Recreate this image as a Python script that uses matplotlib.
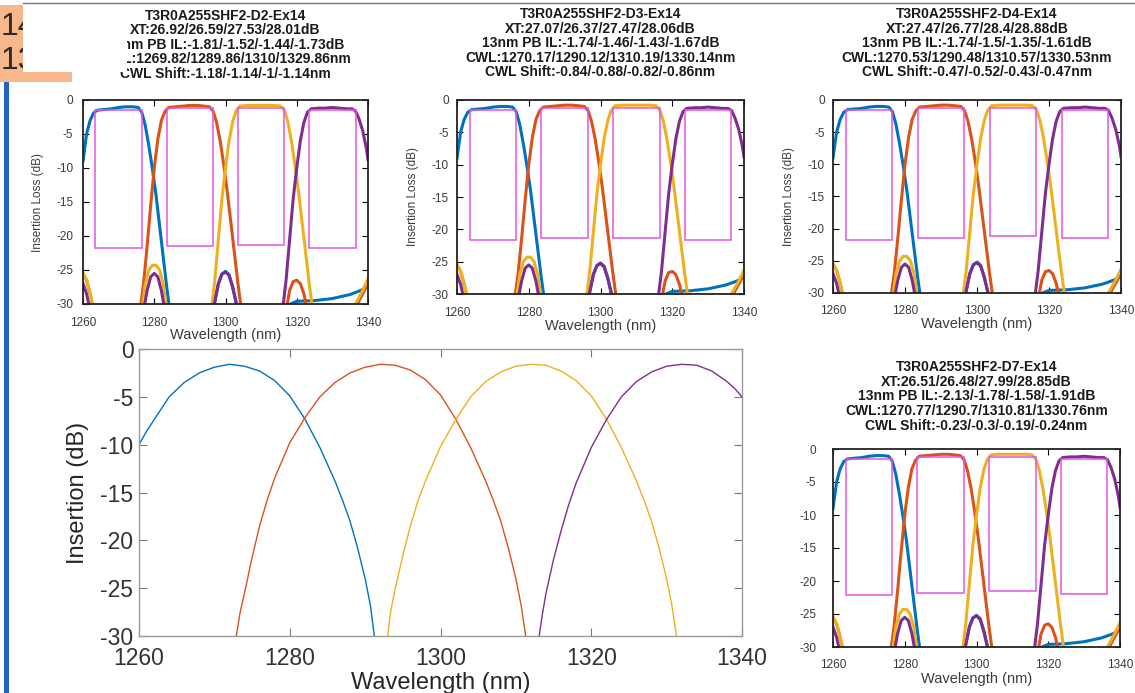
import matplotlib
matplotlib.use('Agg')
import matplotlib.pyplot as plt
from matplotlib.patches import Rectangle
from matplotlib.lines import Line2D

plt.rcParams['font.family'] = ['Liberation Sans', 'DejaVu Sans']
plt.rcParams['axes.unicode_minus'] = False

W, H = 1135, 693
colors = ['#0072BD', '#D95319', '#EDB120', '#7E2F8E']
mask_color = '#e653e6'

# ---- measured flat-top responses (small panels), wavelength nm / IL dB ----
pb_wl_1 = [1260, 1261, 1262, 1263, 1264, 1266, 1268, 1270, 1272, 1274, 1275.5, 1276.5, 1277.5,
           1278.5, 1279.5, 1280.5, 1281.5, 1282.5, 1283.5, 1284.5, 1290,
           1296.5, 1298, 1299, 1300, 1301, 1302, 1303.5, 1309,
           1316, 1320, 1325, 1330, 1335, 1338, 1340]
pb_il_1 = [-9.0, -5.0, -3.0, -1.9, -1.5, -1.4, -1.3, -1.1, -1.0, -1.0, -1.1, -1.8, -3.8,
           -6.8, -10.2, -14.0, -18.5, -23.0, -27.5, -31.5, -45,
           -31, -27.0, -25.6, -25.2, -25.7, -27.5, -31, -45,
           -30.5, -29.6, -29.5, -29.2, -28.6, -28.0, -27.4]

pb_wl_2 = [1260, 1261, 1262, 1263, 1268,
           1276, 1277, 1278, 1279, 1280, 1281, 1282, 1283, 1284, 1286, 1288, 1290, 1292, 1294,
           1295.5, 1296.5, 1297.5, 1298.5, 1299.5, 1300.5, 1301.5, 1302.5, 1303.5, 1304.5, 1310,
           1317, 1318, 1319, 1320, 1321, 1322, 1323, 1330,
           1336, 1338, 1340]
pb_il_2 = [-25.5, -26.5, -28.5, -31, -45,
           -31, -27.0, -21.5, -15.5, -10.0, -5.8, -3.0, -1.7, -1.1, -1.0, -0.9, -0.8, -0.8, -0.9,
           -1.0, -1.6, -3.3, -6.0, -9.5, -13.5, -18.0, -22.5, -27.0, -31, -45,
           -31, -28.0, -26.7, -26.5, -27.0, -28.5, -31, -45,
           -31, -29.0, -27.0]

pb_wl_3 = [1260, 1261, 1262, 1263, 1270,
           1276.5, 1277.5, 1278.5, 1279.5, 1280.5, 1281.5, 1282.5, 1283.5, 1290,
           1296, 1297, 1298, 1299, 1300, 1301, 1302, 1303, 1304, 1306, 1308, 1310, 1312, 1314,
           1315.5, 1316.5, 1317.5, 1318.5, 1319.5, 1320.5, 1321.5, 1322.5, 1323.5, 1324.5, 1330,
           1335.5, 1337, 1338.5, 1340]
pb_il_3 = [-25.5, -26.5, -28.5, -31, -45,
           -31, -27.0, -25.0, -24.3, -24.3, -25.0, -27.0, -31, -45,
           -31, -26.5, -20.5, -14.5, -10.0, -6.0, -3.2, -1.6, -0.9, -0.8, -0.8, -0.8, -0.8, -0.8,
           -0.9, -1.5, -3.2, -6.0, -9.5, -13.5, -18.0, -22.5, -27.0, -31, -45,
           -31, -29.5, -28.0, -26.3]

pb_wl_4 = [1260, 1261, 1262, 1270,
           1277, 1278, 1279, 1280, 1281, 1282, 1283, 1290,
           1296.5, 1298, 1299, 1300, 1301, 1302, 1303.5, 1310,
           1316, 1317, 1318, 1319, 1320, 1321, 1322, 1323, 1324, 1326, 1328, 1330, 1332, 1334,
           1335.5, 1336.5, 1337.5, 1338.5, 1339.5, 1340]
pb_il_4 = [-27.0, -28.5, -31, -45,
           -31, -28.0, -26.0, -25.5, -26.0, -28.0, -31, -45,
           -31, -27.0, -25.6, -25.3, -25.8, -27.5, -31, -45,
           -31, -26.5, -20.5, -14.5, -10.0, -6.0, -3.3, -1.8, -1.3, -1.2, -1.2, -1.1, -1.2, -1.3,
           -1.3, -1.6, -2.8, -4.5, -7.0, -8.8]

# passband masks (13 nm)
mask_lo = [1263.5, 1283.5, 1303.5, 1323.5]
mask_hi = [1276.5, 1296.5, 1316.5, 1336.5]
mask_top = [-1.5, -1.2, -1.2, -1.5]

# ---- devices ----
device_ids = ['D2', 'D3', 'D4', 'D7']
xt = ['26.92/26.59/27.53/28.01', '27.07/26.37/27.47/28.06',
      '27.47/26.77/28.4/28.88', '26.51/26.48/27.99/28.85']
pb_il = ['-1.81/-1.52/-1.44/-1.73', '-1.74/-1.46/-1.43/-1.67',
         '-1.74/-1.5/-1.35/-1.61', '-2.13/-1.78/-1.58/-1.91']
cwl = ['1269.82/1289.86/1310/1329.86', '1270.17/1290.12/1310.19/1330.14',
       '1270.53/1290.48/1310.57/1330.53', '1270.77/1290.7/1310.81/1330.76']
cwl_shift = ['-1.18/-1.14/-1/-1.14', '-0.84/-0.88/-0.82/-0.86',
             '-0.47/-0.52/-0.43/-0.47', '-0.23/-0.3/-0.19/-0.24']
mask_floor = [[-21.8, -21.5, -21.3, -21.8],
              [-21.7, -21.4, -21.4, -21.7],
              [-21.7, -21.4, -21.2, -21.5],
              [-22.1, -21.8, -21.5, -21.9]]

# ---- measured gaussian responses (large panel) ----
g_wl_1 = [1260, 1261, 1262, 1264, 1266, 1268, 1270, 1272, 1274, 1276, 1278, 1280, 1282, 1284,
          1286, 1287, 1288, 1289, 1290, 1290.7, 1291.3]
g_il_1 = [-10.0, -8.6, -7.4, -5.0, -3.5, -2.5, -1.9, -1.6, -1.8, -2.3, -3.3, -4.9, -7.3, -10.3,
          -13.8, -15.8, -18.0, -20.8, -24.0, -26.8, -30.5]
g_wl_2 = [1272.8, 1273.4, 1274, 1275, 1276, 1277, 1278, 1280, 1282, 1284, 1286, 1288, 1290, 1292,
          1294, 1296, 1298, 1300, 1302, 1304, 1306, 1307, 1308, 1309, 1310, 1310.7, 1311.4]
g_il_2 = [-30.5, -27.6, -25.5, -21.8, -18.5, -15.8, -13.5, -9.8, -7.2, -5.0, -3.5, -2.5, -1.9,
          -1.6, -1.7, -2.2, -3.2, -4.8, -7.3, -10.3, -13.8, -15.8, -18.0, -20.8, -24.0, -26.8,
          -30.5]
g_wl_3 = [1292.9, 1293.4, 1294, 1295, 1296, 1297, 1298, 1300, 1302, 1304, 1306, 1308, 1310, 1312,
          1314, 1316, 1318, 1320, 1322, 1324, 1326, 1327, 1328, 1329, 1330, 1330.7, 1331.4]
g_il_3 = [-30.5, -27.4, -25.0, -21.6, -18.5, -15.9, -13.8, -10.2, -7.4, -5.0, -3.4, -2.4, -1.8,
          -1.6, -1.7, -2.3, -3.3, -4.9, -7.3, -10.3, -13.8, -15.8, -18.0, -20.8, -24.0, -26.8,
          -30.5]
g_wl_4 = [1313.0, 1313.5, 1314, 1315, 1316, 1317, 1318, 1320, 1322, 1324, 1326, 1328, 1330, 1332,
          1334, 1336, 1338, 1339, 1340]
g_il_4 = [-30.5, -27.8, -25.5, -22.0, -19.0, -16.3, -14.0, -10.3, -7.4, -5.0, -3.4, -2.4, -1.8,
          -1.6, -1.7, -2.3, -3.4, -4.1, -5.0]

xticks = [1260, 1280, 1300, 1320, 1340]
yticks = [-30, -25, -20, -15, -10, -5, 0]


def box(l, t, r, b):
    return [l / W, 1 - b / H, (r - l) / W, (b - t) / H]


fig = plt.figure(figsize=(W / 100, H / 100), dpi=100)

# small panels: pixel boxes (left, top, right, bottom), title pad, y tick pad
small_boxes = [(83, 100, 368, 304), (457, 100, 744, 294), (833, 100, 1121, 293), (833, 449, 1120, 647)]
title_pads = [16, 17, 17, 14]
ytick_pads = [7, 6, 6, 12]

pb_wl = [pb_wl_1, pb_wl_2, pb_wl_3, pb_wl_4]
pb_ilv = [pb_il_1, pb_il_2, pb_il_3, pb_il_4]

for i, dev in enumerate(device_ids):
    ax = fig.add_axes(box(*small_boxes[i]))
    for wl, il, c in zip(pb_wl, pb_ilv, colors):
        ax.plot(wl, il, color=c, lw=2.2, solid_joinstyle='round')
    for lo, hi, top, fl in zip(mask_lo, mask_hi, mask_top, mask_floor[i]):
        ax.add_patch(Rectangle((lo, fl), hi - lo, top - fl, fill=False,
                               edgecolor=mask_color, lw=1.1, zorder=3))
    ax.set_xlim(1260, 1340)
    ax.set_ylim(-30, 0)
    ax.set_xticks(xticks)
    ax.set_yticks(yticks)
    ax.tick_params(direction='in', top=True, right=True, length=4, width=0.8,
                   labelsize=8.5, labelcolor='#3a3a3a')
    ax.tick_params(axis='x', pad=9)
    ax.tick_params(axis='y', pad=ytick_pads[i])
    for s in ax.spines.values():
        s.set_linewidth(1.3)
        s.set_color('#222222')
    ax.set_xlabel('Wavelength (nm)', fontsize=10.5, color='#3c3c3c', labelpad=0)
    if dev != 'D7':
        ax.set_ylabel('Insertion Loss (dB)', fontsize=8.5, color='#3c3c3c', labelpad=9)
    title = (f'T3R0A255SHF2-{dev}-Ex14\n'
             f'XT:{xt[i]}dB\n'
             f'13nm PB IL:{pb_il[i]}dB\n'
             f'CWL:{cwl[i]}nm\n'
             f'CWL Shift:{cwl_shift[i]}nm')
    ax.set_title(title, fontsize=10, fontweight='bold', color='#1a1a1a',
                 linespacing=1.05, pad=title_pads[i])

# large panel
axb = fig.add_axes(box(139, 349, 742, 636))
for wl, il, c in zip([g_wl_1, g_wl_2, g_wl_3, g_wl_4], [g_il_1, g_il_2, g_il_3, g_il_4], colors):
    axb.plot(wl, il, color=c, lw=1.0)
axb.set_xlim(1260, 1340)
axb.set_ylim(-30, 0)
axb.set_xticks(xticks)
axb.set_yticks(yticks)
axb.tick_params(direction='in', top=True, right=True, length=6, width=0.8, color='#777777',
                labelsize=16.5, labelcolor='#333333')
axb.tick_params(axis='x', pad=8)
axb.tick_params(axis='y', pad=4)
for s in axb.spines.values():
    s.set_linewidth(1.0)
    s.set_color('#999999')
axb.set_xlabel('Wavelength (nm)', fontsize=17, color='#262626', labelpad=1)
axb.set_ylabel('Insertion (dB)', fontsize=17, color='#262626', labelpad=8)

# slide decorations
def fig_rect(l, t, r, b, **kw):
    fig.add_artist(Rectangle((l / W, 1 - b / H), (r - l) / W, (b - t) / H,
                             transform=fig.transFigure, **kw))

fig_rect(0, 5, 72, 82, facecolor='#f7b78a', edgecolor='none', zorder=4)
fig.text(1 / W, 1 - 27 / H, '14', fontsize=23, color='#2b2b2b', va='center', zorder=5)
fig.text(1 / W, 1 - 61 / H, '130', fontsize=23, color='#2b2b2b', va='center', zorder=5)
fig_rect(23, 3, 127, 72, facecolor='white', edgecolor='none', zorder=6)
fig.add_artist(Line2D([23 / W, 1], [1 - 3 / H, 1 - 3 / H], transform=fig.transFigure,
                      color='#777777', lw=1.0, zorder=7))
fig_rect(4, 82, 9, 693, facecolor='#2563c7', edgecolor='none', zorder=4)
fig_rect(768, 445, 800, 670, facecolor='white', edgecolor='none', zorder=6)

fig.savefig('out.png', dpi=100)
